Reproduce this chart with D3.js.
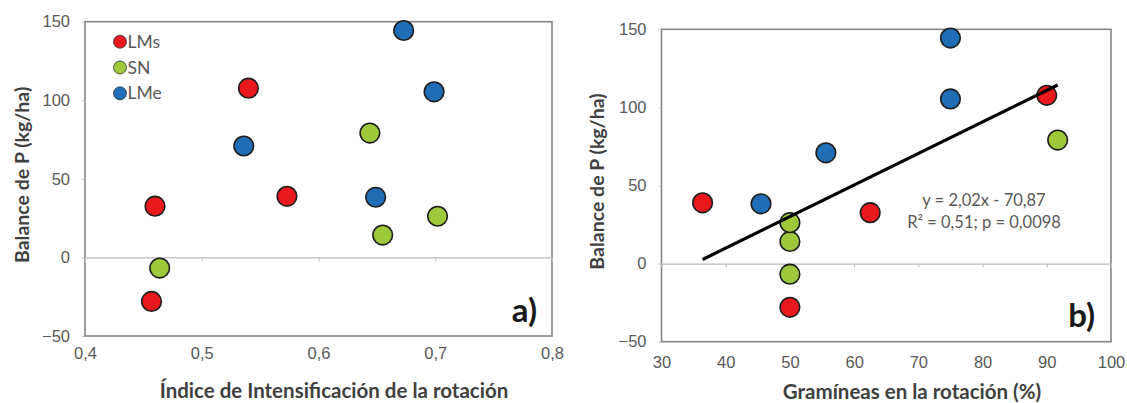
<!DOCTYPE html>
<html>
<head>
<meta charset="utf-8">
<script src="https://cdn.jsdelivr.net/npm/d3@7/dist/d3.min.js"></script>
<style>
  html, body { margin: 0; padding: 0; background: #fff; }
  svg { display: block; font-family: Lato, "Open Sans", sans-serif; }
  .tick text { fill: #595959; }
</style>
</head>
<body>
<svg id="chart" width="1127" height="403"></svg>
<script>
// Series names and colours
const seriesNames = ["LMs", "SN", "LMe"];
const seriesColors = ["#e8181c", "#9dc93a", "#1f6db5"];

// P balance (kg/ha), shared by both panels, per series
const balanceLMs = [32.6, 107.7, 38.9, -28.0];
const balanceSN  = [-6.8, 79.1, 14.2, 26.2];
const balanceLMe = [144.4, 105.4, 70.9, 38.3];

// Panel a: rotation intensification index
const indexLMs = [0.460, 0.540, 0.573, 0.457];
const indexSN  = [0.464, 0.644, 0.655, 0.702];
const indexLMe = [0.673, 0.699, 0.536, 0.649];

// Panel b: grasses in the rotation (%)
const grassLMs = [62.5, 90.0, 36.4, 50.0];
const grassSN  = [50.0, 91.7, 50.0, 50.0];
const grassLMe = [75.0, 75.0, 55.6, 45.5];

// Fitted regression for panel b
const fitSlope = 2.02;
const fitIntercept = -70.87;
const fitLabels = ["y = 2,02x - 70,87", "R² = 0,51; p = 0,0098"];

// Tick values
const yTicks = [-50, 0, 50, 100, 150];
const xTicksA = [0.4, 0.5, 0.6, 0.7, 0.8];
const xTicksB = [30, 40, 50, 60, 70, 80, 90, 100];

const svg = d3.select("#chart");
const comma = d => String(d).replace(".", ",");

function buildSeries(xs) {
  const ys = [balanceLMs, balanceSN, balanceLMe];
  return seriesNames.map((name, i) => ({
    name, color: seriesColors[i],
    points: xs[i].map((x, j) => ({ x, y: ys[i][j] }))
  }));
}

function panel(opts) {
  const { x, y, xTicks, yTitle, xTitle, yTitleX, xTitleX, tag, tagX, tagY, xLabelY, xTitleY } = opts;
  const g = svg.append("g");
  const [x0, x1] = x.range();
  const [y0, y1] = y.range();

  // plot frame
  g.append("rect")
    .attr("x", x0).attr("y", y1)
    .attr("width", x1 - x0).attr("height", y0 - y1)
    .attr("fill", "#fff").attr("stroke", "#858585").attr("stroke-width", 1.6);

  // horizontal axis line crossing at zero, with tick marks
  const zeroAxis = g.append("g")
    .attr("transform", `translate(0,${y(0)})`)
    .call(d3.axisBottom(x).tickValues(xTicks).tickSize(4).tickFormat(""));
  zeroAxis.select(".domain").attr("stroke", "#bdbdbd").attr("stroke-width", 1.2);
  zeroAxis.selectAll(".tick line").attr("stroke", "#bdbdbd");

  // x tick labels below the frame
  const xLab = g.append("g")
    .attr("transform", `translate(0,${xLabelY})`)
    .call(d3.axisBottom(x).tickValues(xTicks).tickSize(0).tickPadding(0).tickFormat(comma));
  xLab.select(".domain").remove();
  xLab.selectAll("text").attr("font-size", 16.5).attr("dy", "0.35em");

  // y axis
  const yAx = g.append("g")
    .attr("transform", `translate(${x0},0)`)
    .call(d3.axisLeft(y).tickValues(yTicks).tickSize(3).tickPadding(12).tickFormat(d3.format("d")));
  yAx.select(".domain").remove();
  yAx.selectAll(".tick line").attr("stroke", "#bdbdbd");
  yAx.selectAll("text").attr("font-size", 16.5);

  // axis titles
  g.append("text")
    .attr("transform", `translate(${yTitleX},${(y0 + y1) / 2 - 4}) rotate(-90)`)
    .attr("text-anchor", "middle").attr("dy", "0.35em")
    .attr("font-size", 19.5).attr("font-weight", "bold").attr("fill", "#404040")
    .text(yTitle);
  g.append("text")
    .attr("x", xTitleX).attr("y", xTitleY)
    .attr("text-anchor", "middle").attr("dy", "0.35em")
    .attr("font-size", 20.5).attr("font-weight", "bold").attr("fill", "#404040")
    .text(xTitle);

  // panel tag
  g.append("text")
    .attr("x", tagX).attr("y", tagY)
    .attr("text-anchor", "end")
    .attr("font-size", 33).attr("font-weight", "bold").attr("fill", "#1a1a1a")
    .text(tag);

  return g;
}

function drawPoints(g, x, y, series) {
  series.forEach(s => {
    g.append("g").selectAll("circle")
      .data(s.points).join("circle")
      .attr("cx", d => x(d.x)).attr("cy", d => y(d.y))
      .attr("r", 9.8)
      .attr("fill", s.color)
      .attr("stroke", "#1e1e1e").attr("stroke-width", 1.6);
  });
}

// ---------- Panel a ----------
const xA = d3.scaleLinear().domain([0.4, 0.8]).range([85, 552]);
const yA = d3.scaleLinear().domain([-50, 150]).range([336, 21.7]);
const gA = panel({
  x: xA, y: yA, xTicks: xTicksA,
  yTitle: "Balance de P (kg/ha)", xTitle: "Índice de Intensificación de la rotación",
  yTitleX: 22, xTitleX: 334, tag: "a)", tagX: 537, tagY: 322, xLabelY: 353, xTitleY: 391
});

// legend
const legend = gA.append("g");
seriesNames.forEach((name, i) => {
  const ly = 41.7 + i * 25.8;
  legend.append("circle")
    .attr("cx", 120).attr("cy", ly).attr("r", 6.5)
    .attr("fill", seriesColors[i]).attr("stroke", "#333").attr("stroke-width", 0.8);
  legend.append("text")
    .attr("x", 127.5).attr("y", ly).attr("dy", "0.35em")
    .attr("font-size", 17.5).attr("fill", "#595959")
    .text(name);
});
drawPoints(gA, xA, yA, buildSeries([indexLMs, indexSN, indexLMe]));

// ---------- Panel b ----------
const xB = d3.scaleLinear().domain([30, 100]).range([661.5, 1111]);
const yB = d3.scaleLinear().domain([-50, 150]).range([341.7, 29.3]);
const gB = panel({
  x: xB, y: yB, xTicks: xTicksB,
  yTitle: "Balance de P (kg/ha)", xTitle: "Gramíneas en la rotación (%)",
  yTitleX: 597, xTitleX: 912, tag: "b)", tagX: 1095, tagY: 327, xLabelY: 362, xTitleY: 392
});

const seriesB = buildSeries([grassLMs, grassSN, grassLMe]);
drawPoints(gB, xB, yB, seriesB);

// regression line over the range of the data
const allGrass = grassLMs.concat(grassSN, grassLMe);
const [gMin, gMax] = d3.extent(allGrass);
const fitLine = d3.line().x(d => xB(d)).y(d => yB(fitSlope * d + fitIntercept));
gB.append("path")
  .attr("d", fitLine([gMin, gMax]))
  .attr("fill", "none").attr("stroke", "#000").attr("stroke-width", 3.2);

fitLabels.forEach((t, i) => {
  gB.append("text")
    .attr("x", 984).attr("y", 200 + i * 22).attr("dy", "0.35em")
    .attr("text-anchor", "middle")
    .attr("font-size", 16.5).attr("fill", "#595959")
    .text(t);
});
</script>
</body>
</html>
